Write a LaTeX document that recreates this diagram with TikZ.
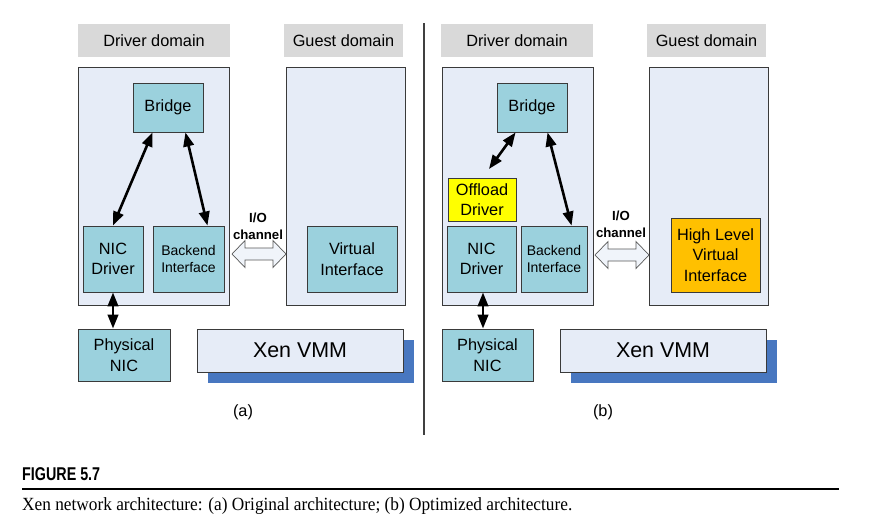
\documentclass[tikz,border=0pt]{standalone}
\usepackage{fontspec}
\setmainfont{Liberation Sans}
\newfontfamily\capserif{Liberation Serif}
\usetikzlibrary{arrows.meta}
\definecolor{domfill}{HTML}{E6ECF7}
\definecolor{tealfill}{HTML}{9BD1DD}
\definecolor{lblgray}{HTML}{D9D9D9}
\definecolor{shadowblue}{HTML}{4877C0}
\definecolor{edgegray}{HTML}{3A3A3A}
\definecolor{offyellow}{HTML}{FFFF00}
\definecolor{hlorange}{HTML}{FFC000}
\tikzset{
  lbl/.style={fill=lblgray, draw=none, minimum height=33pt, inner sep=0pt, font=\fontsize{16.3}{20}\selectfont},
  dom/.style={fill=domfill, draw=edgegray, line width=0.9pt, minimum height=238pt, inner sep=0pt},
  tbox/.style={fill=tealfill, draw=edgegray, line width=0.9pt, inner sep=0pt, align=center, font=\fontsize{16.3}{20.5}\selectfont},
  smallt/.style={font=\fontsize{14}{17.5}\selectfont},
  xenbox/.style={fill=domfill, draw=edgegray, line width=0.9pt, minimum width=206pt, minimum height=43pt, inner sep=0pt, font=\fontsize{21.4}{24}\selectfont},
  shadowbox/.style={fill=shadowblue, draw=none, minimum width=206pt, minimum height=43pt, inner sep=0pt},
  dbl/.style={line width=2.6pt, {Triangle[length=14pt,width=10.5pt]}-{Triangle[length=14pt,width=10.5pt]}},
  ioarr/.style={fill=domfill!60!white, draw=gray!70!black, line width=0.7pt, line join=miter},
  iolbl/.style={font=\bfseries\fontsize{13.2}{17}\selectfont, align=center, inner sep=0pt},
  sublbl/.style={font=\fontsize{16.3}{20}\selectfont, inner sep=0pt}
}
\newcommand\ioarrowdraw[2]{%
  \draw[ioarr] (#1) -- ([shift={(13,-13.5)}]#1) -- ([shift={(13,-6)}]#1) -- ([shift={(-13,-6)}]#2) -- ([shift={(-13,-13.5)}]#2) -- (#2) -- ([shift={(-13,13.5)}]#2) -- ([shift={(-13,6)}]#2) -- ([shift={(13,6)}]#1) -- ([shift={(13,13.5)}]#1) -- cycle;}
\begin{document}
\begin{tikzpicture}[x=1pt, y=-1pt]
\useasboundingbox (0,0) rectangle (888,528);
\fill[white] (0,0) rectangle (888,528);

% ---------- (a) ----------
\node[lbl, minimum width=152pt] (lblDA) at (154,40.5) {Driver domain};
\node[lbl, minimum width=119pt] (lblGA) at (343.5,40.5) {Guest domain};
\node[dom, minimum width=151pt] (domDA) at (153.5,186) {};
\node[dom, minimum width=119pt] (domGA) at (345.5,186) {};
\node[tbox, minimum width=70pt, minimum height=49pt] (bridgeA) at (168,107.5) {Bridge};
\node[tbox, minimum width=60pt, minimum height=66pt] (nicA) at (113,259) {NIC\\Driver};
\node[tbox, smallt, minimum width=71pt, minimum height=66pt] (backA) at (188.5,259) {Backend\\Interface};
\node[tbox, minimum width=90pt, minimum height=66pt] (virtA) at (352,259) {Virtual\\Interface};
\node[tbox, minimum width=92pt, minimum height=52pt] (physA) at (124,355) {Physical\\NIC};
\node[shadowbox] (shA) at (311,361.5) {};
\node[xenbox] (xenA) at (300,350.5) {Xen VMM};
\node[iolbl] (ioA) at (258,226) {I/O\\channel};
\coordinate (ioLA) at (232,254);
\coordinate (ioRA) at (286,254);
\ioarrowdraw{ioLA}{ioRA}
\draw[dbl] ([xshift=20pt]bridgeA.south west) -- (nicA.north);
\draw[dbl] ([xshift=-18pt]bridgeA.south east) -- ([xshift=-17pt]backA.north east);
\draw[dbl] (nicA.south) -- (nicA.south |- physA.north);
\node[sublbl] (capA) at (243,412) {(a)};

% divider
\coordinate (divTop) at (424,23);
\coordinate (divBot) at (424,435);
\draw[line width=2pt, draw=black!75] (divTop) -- (divBot);

% ---------- (b) ----------
\node[lbl, minimum width=152pt] (lblDB) at (517,40.5) {Driver domain};
\node[lbl, minimum width=119pt] (lblGB) at (706.5,40.5) {Guest domain};
\node[dom, minimum width=151pt] (domDB) at (517.5,186) {};
\node[dom, minimum width=119pt] (domGB) at (708.5,186) {};
\node[tbox, minimum width=70pt, minimum height=49pt] (bridgeB) at (532,107.5) {Bridge};
\node[tbox, fill=offyellow, minimum width=68pt, minimum height=43pt] (offB) at (482,199.5) {Offload\\Driver};
\node[tbox, minimum width=69pt, minimum height=66pt] (nicB) at (481.5,259) {NIC\\Driver};
\node[tbox, smallt, minimum width=66pt, minimum height=66pt] (backB) at (554,259) {Backend\\Interface};
\node[tbox, fill=hlorange, minimum width=89pt, minimum height=74pt] (hlviB) at (715.5,255) {High Level\\Virtual\\Interface};
\node[tbox, minimum width=91pt, minimum height=52pt] (physB) at (487.5,355) {Physical\\NIC};
\node[shadowbox] (shB) at (674,361.5) {};
\node[xenbox] (xenB) at (663,350.5) {Xen VMM};
\node[iolbl] (ioB) at (621,224) {I/O\\channel};
\coordinate (ioLB) at (595,255);
\coordinate (ioRB) at (649,255);
\ioarrowdraw{ioLB}{ioRB}
\coordinate (offTip) at (489,169);
\draw[dbl] ([xshift=19pt]bridgeB.south west) -- (offTip);
\draw[dbl] ([xshift=51pt]bridgeB.south west) -- ([xshift=51pt]backB.north west);
\draw[dbl] ([xshift=1.5pt]nicB.south) -- ([xshift=1.5pt]nicB.south |- physB.north);
\node[sublbl] (capB) at (603,412) {(b)};

% ---------- caption ----------
\node[anchor=west, inner sep=0pt] (figno) at (22,474.5) {\resizebox{78pt}{\height}{\fontsize{18.5}{20}\selectfont\bfseries FIGURE 5.7}};
\coordinate (ruleL) at (22,489);
\coordinate (ruleR) at (839,489);
\draw[line width=1.3pt] (ruleL) -- (ruleR);
\node[anchor=base west, inner sep=0pt] (captxt) at (22,510) {\resizebox{550pt}{\height}{\capserif\fontsize{18.6}{20}\selectfont Xen network architecture: (a) Original architecture; (b) Optimized architecture.}};
\end{tikzpicture}
\end{document}
